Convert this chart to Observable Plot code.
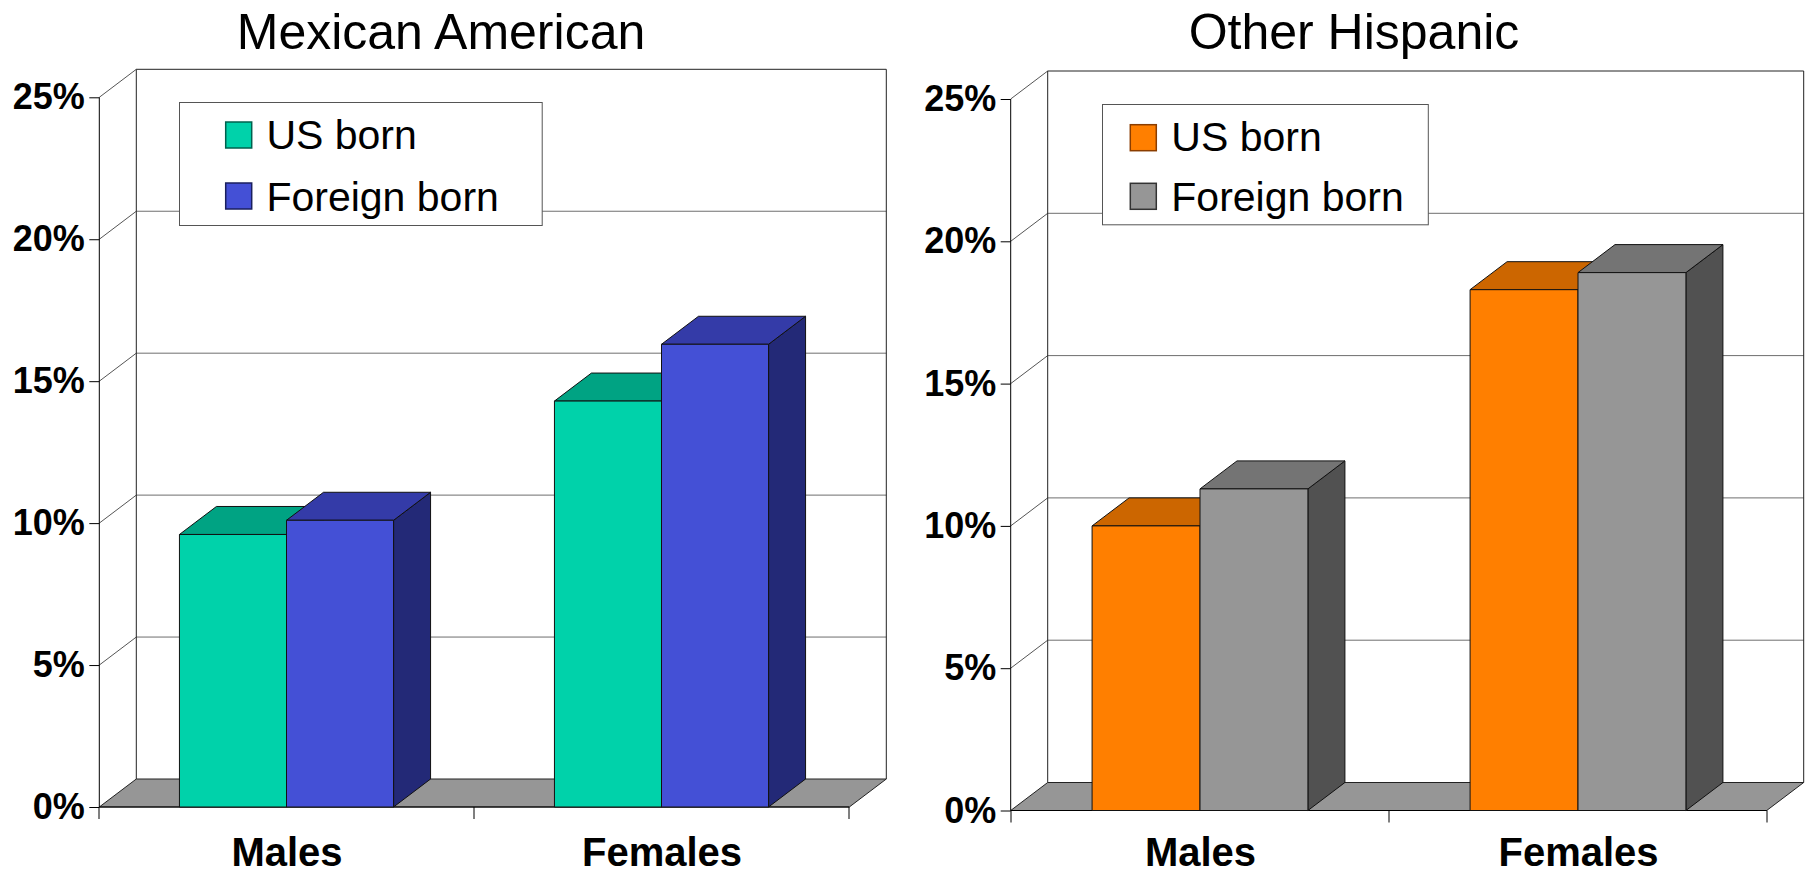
<!DOCTYPE html>
<html><head><meta charset="utf-8">
<script src="https://cdn.jsdelivr.net/npm/d3@7"></script>
<script src="https://cdn.jsdelivr.net/npm/@observablehq/plot@0.6"></script>
<style>
body{margin:0;background:#fff;font-family:'Liberation Sans',Arial,Helvetica,sans-serif;}
#page{position:relative;width:1805px;height:875px;overflow:hidden;background:#fff;}
.col{position:absolute;top:0;height:875px;}
.title{position:absolute;top:7px;font-size:50px;line-height:50px;white-space:nowrap;transform:translateX(-50%);color:#000;}
.plotbox{position:absolute;top:60px;left:0;}
</style></head><body><div id="page"></div><script>
// ---- data ----
const groups = ["Males", "Females"];
const seriesNames = ["US born", "Foreign born"];
const titles = ["Mexican American", "Other Hispanic"];
const mexicanUS = [9.6, 14.3];
const mexicanForeign = [10.1, 16.3];
const otherUS = [10.0, 18.3];
const otherForeign = [11.3, 18.9];
const yTicks = [0, 5, 10, 15, 20, 25];

// ---- style ----
const FONT = "'Liberation Sans', Arial, Helvetica, sans-serif";
const DEPTH = {dx: 37, dy: -28};
const BAR_FRAC = 0.2855;
const palettes = [
  [{front: "#00D2AA", top: "#00A383", side: "#007A66", edge: "#00614E"},
   {front: "#4450D6", top: "#343BA8", side: "#232977", edge: "#1A1F5E"}],
  [{front: "#FF7F00", top: "#CC6600", side: "#994C00", edge: "#8A3D00"},
   {front: "#969696", top: "#747474", side: "#515151", edge: "#333333"}]
];
const layouts = [
  {left: 0, width: 900, ml: 99.3, mr: 50.7, mt: 37.3, mb: 68, titleX: 441, xPad: 30,
   legend: {x: 179.3, y: 102.3, w: 362.7, h: 123, sx: 46.7, sy: [20, 81], tx: 87.4, ty: [47, 108.7]}},
  {left: 900, width: 905, ml: 110.7, mr: 38.3, mt: 39, mb: 64.5, titleX: 454, xPad: 27,
   legend: {x: 201.7, y: 104, w: 325.8, h: 120.3, sx: 28.3, sy: [20.7, 79.3], tx: 69.3, ty: [47, 106.7]}}
];

function frameMark() {
  return Plot.ruleY(yTicks, {y: d => d, render(index, scales, values, dims) {
    const {width, marginLeft, marginRight} = dims;
    const y = scales.y, x = scales.x;
    const x0 = marginLeft, x1 = width - marginRight;
    const yb = y(0), yt = y(d3.max(yTicks));
    const {dx, dy} = DEPTH;
    const g = d3.create("svg:g").attr("fill", "none");
    const line = (a, b, c, d, stroke, sw = 1) => g.append("line").attr("x1", a).attr("y1", b).attr("x2", c).attr("y2", d).attr("stroke", stroke).attr("stroke-width", sw);
    g.append("path").attr("d", `M${x0},${yb}L${x1},${yb}L${x1 + dx},${yb + dy}L${x0 + dx},${yb + dy}Z`)
      .attr("fill", "#969696").attr("stroke", "#222");
    for (const t of yTicks) {
      const yy = y(t);
      if (t > 0) {
        line(x0 + dx, yy + dy, x1 + dx, yy + dy, t === d3.max(yTicks) ? "#222" : "#6e6e6e");
        line(x0, yy, x0 + dx, yy + dy, "#555");
      }
    }
    line(x0 + dx, yb + dy, x0 + dx, yt + dy, "#222");
    line(x1 + dx, yb + dy, x1 + dx, yt + dy, "#222");
    line(x0, yb, x0, yt, "#000");
    line(x0, yb, x1, yb, "#000");
    const bw = x.bandwidth();
    const edges = Array.from(new Set(groups.flatMap(gr => [x(gr), x(gr) + bw])));
    edges.forEach(e => line(e, yb, e, yb + 12, "#000"));
    return g.node();
  }});
}

function barsMark(rows, palette) {
  return Plot.barY(rows, {x: "group", y1: () => 0, y2: "value", render(index, scales, values) {
    const bw = scales.x.bandwidth();
    const w = bw * BAR_FRAC;
    const {dx, dy} = DEPTH;
    const g = d3.create("svg:g").attr("stroke", "#111").attr("stroke-width", 1).attr("stroke-linejoin", "round");
    for (const i of index) {
      const s = seriesNames.indexOf(rows[i].series);
      const c = palette[s];
      const cx = values.x[i] + bw / 2;
      const L = cx + (s - 1) * w, R = L + w;
      const T = Math.min(values.y1[i], values.y2[i]), B = Math.max(values.y1[i], values.y2[i]);
      g.append("path").attr("d", `M${R},${B}L${R},${T}L${R + dx},${T + dy}L${R + dx},${B + dy}Z`).attr("fill", c.side);
      g.append("path").attr("d", `M${L},${T}L${R},${T}L${R + dx},${T + dy}L${L + dx},${T + dy}Z`).attr("fill", c.top);
      g.append("rect").attr("x", L).attr("y", T).attr("width", R - L).attr("height", B - T).attr("fill", c.front);
    }
    return g.node();
  }});
}

function makeChart(usVals, fbVals, palette, lay) {
  const rows = groups.flatMap((g, i) => [
    {group: g, series: seriesNames[0], value: usVals[i]},
    {group: g, series: seriesNames[1], value: fbVals[i]}
  ]);
  return Plot.plot({
    width: lay.width, height: 815,
    marginLeft: lay.ml, marginRight: lay.mr, marginTop: lay.mt, marginBottom: lay.mb,
    style: {fontFamily: FONT, background: "transparent", overflow: "visible", color: "#000"},
    x: {domain: groups, padding: 0},
    y: {domain: [0, 25]},
    marks: [
      frameMark(),
      barsMark(rows, palette),
      Plot.axisY(yTicks, {tickFormat: d => d + "%", tickSize: 10, tickPadding: 5, fontSize: 36, fontWeight: "bold", fontFamily: FONT, label: null}),
      Plot.axisX(groups, {tickSize: 0, tickPadding: lay.xPad, fontSize: 40, fontWeight: "bold", fontFamily: FONT, label: null})
    ]
  });
}

function addLegend(col, palette, b) {
  const svg = d3.select(col).append("svg")
    .style("position", "absolute").style("left", b.x + "px").style("top", b.y + "px")
    .attr("width", b.w + 2).attr("height", b.h + 2);
  svg.append("rect").attr("x", 0.5).attr("y", 0.5).attr("width", b.w).attr("height", b.h)
    .attr("fill", "#fff").attr("stroke", "#555");
  seriesNames.forEach((name, s) => {
    svg.append("rect").attr("x", b.sx).attr("y", b.sy[s]).attr("width", 26).attr("height", 26)
      .attr("fill", palette[s].front).attr("stroke", palette[s].edge).attr("stroke-width", 1.5);
    svg.append("text").attr("x", b.tx).attr("y", b.ty[s]).text(name)
      .attr("font-size", 41).attr("font-family", FONT).attr("fill", "#000");
  });
}

const page = document.getElementById("page");
const dataSets = [[mexicanUS, mexicanForeign], [otherUS, otherForeign]];
layouts.forEach((lay, k) => {
  const col = document.createElement("div");
  col.className = "col";
  col.style.left = lay.left + "px";
  col.style.width = lay.width + "px";
  page.appendChild(col);
  const t = document.createElement("div");
  t.className = "title";
  t.style.left = lay.titleX + "px";
  t.textContent = titles[k];
  col.appendChild(t);
  const box = document.createElement("div");
  box.className = "plotbox";
  box.appendChild(makeChart(dataSets[k][0], dataSets[k][1], palettes[k], lay));
  col.appendChild(box);
  addLegend(col, palettes[k], lay.legend);
});
</script></body></html>
